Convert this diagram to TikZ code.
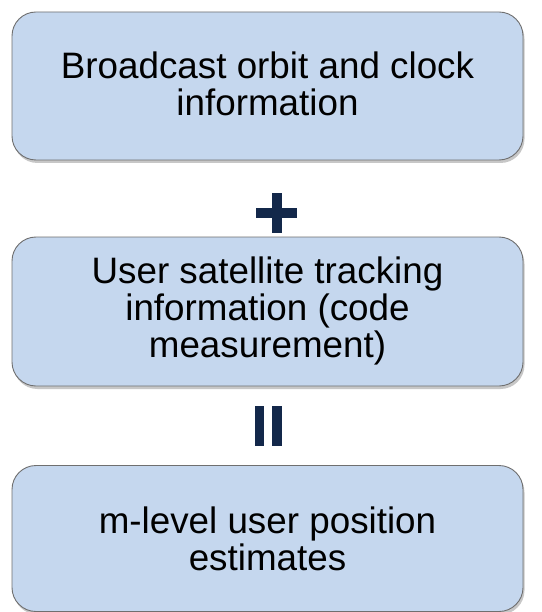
\documentclass[tikz,border=0pt]{standalone}
\usepackage{fontspec}
\setmainfont{Liberation Sans}
\usetikzlibrary{shadows}
\definecolor{boxfill}{HTML}{C5D7EE}
\definecolor{boxline}{HTML}{6F6F6F}
\definecolor{navy}{HTML}{13284A}
\tikzset{
  infobox/.style={draw=boxline, line width=0.9pt, fill=boxfill, rounded corners=24pt,
    drop shadow={shadow xshift=1.5pt, shadow yshift=-3pt, opacity=0.4, fill=black!55}},
  infotext/.style={align=center, font=\fontsize{36.8}{37}\selectfont, text=black},
  symbar/.style={fill=navy, draw=none}
}
\begin{document}
\begin{tikzpicture}[x=1pt,y=1pt]
\useasboundingbox (0,0) rectangle (541,-612);
\fill[white] (0,0) rectangle (541,-612);
% boxes
\node[infobox, minimum width=511pt, minimum height=148pt, inner sep=0pt] (b1) at (267.5,-86) {};
\node[infobox, minimum width=511pt, minimum height=149pt, inner sep=0pt] (b2) at (267.5,-311.5) {};
\node[infobox, minimum width=511pt, minimum height=146pt, inner sep=0pt] (b3) at (267.5,-538.5) {};
\node[infotext] (t1) at ([yshift=2pt]b1.center) {Broadcast orbit and clock\\information};
\node[infotext] (t2) at ([yshift=1pt]b2.center) {User satellite tracking\\information (code\\measurement)};
\node[infotext] (t3) at (b3.center) {m-level user position\\estimates};
% plus sign
\coordinate (plus) at (276.5,-213);
\fill[symbar] ([shift={(-20.5,-5)}]plus) rectangle ([shift={(20.5,5)}]plus);
\fill[symbar] ([shift={(-5,-20)}]plus) rectangle ([shift={(5,20)}]plus);
% equals sign (vertical bars)
\coordinate (eq) at (268.5,-426);
\fill[symbar] ([shift={(-13.5,-20)}]eq) rectangle ([shift={(-4.5,20)}]eq);
\fill[symbar] ([shift={(3.5,-20)}]eq) rectangle ([shift={(13.5,20)}]eq);
\end{tikzpicture}
\end{document}
